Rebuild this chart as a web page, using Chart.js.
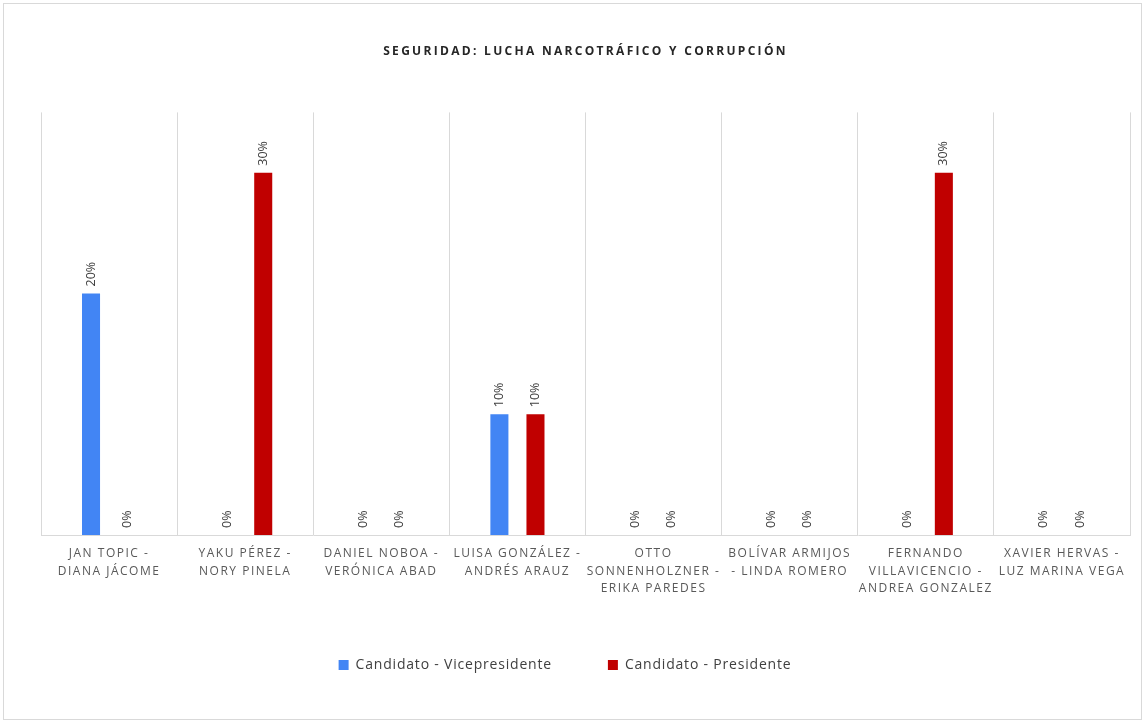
<!DOCTYPE html>
<html>
<head>
<meta charset="utf-8">
<script src="https://cdn.jsdelivr.net/npm/chart.js@4"></script>
<style>
  html, body { margin: 0; padding: 0; background: #fff; }
  #wrap { position: relative; width: 1145px; height: 724px; }
  #frame { position: absolute; left: 3px; top: 3px; width: 1139px; height: 717px; border: 1px solid #d9d9d9; box-sizing: border-box; }
</style>
</head>
<body>
<div id="wrap">
  <div id="frame"></div>
  <canvas id="mycanvas" width="1145" height="724"></canvas>
</div>
<script>
var candidatos = [
  ["JAN TOPIC -", "DIANA JÁCOME"],
  ["YAKU PÉREZ -", "NORY PINELA"],
  ["DANIEL NOBOA -", "VERÓNICA ABAD"],
  ["LUISA GONZÁLEZ -", "ANDRÉS ARAUZ"],
  ["OTTO", "SONNENHOLZNER -", "ERIKA PAREDES"],
  ["BOLÍVAR ARMIJOS", "- LINDA ROMERO"],
  ["FERNANDO", "VILLAVICENCIO -", "ANDREA GONZALEZ"],
  ["XAVIER HERVAS -", "LUZ MARINA VEGA"]
];
var vicepresidente = [20, 0, 0, 10, 0, 0, 0, 0];
var presidente = [0, 30, 0, 10, 0, 0, 30, 0];

// letter spacing helper: wraps a draw/fit method
function espaciar(obj, metodo, esp) {
  var orig = obj[metodo];
  obj[metodo] = function() {
    var c = this.ctx || grafico.ctx;
    c.save();
    c.letterSpacing = esp;
    var r = orig.apply(this, arguments);
    c.restore();
    return r;
  };
}

var espaciado = {
  id: "espaciado",
  afterInit: function(chart) {
    espaciar(chart.titleBlock, "draw", "2.3px");
    espaciar(chart.legend, "fit", "0.8px");
    espaciar(chart.legend, "draw", "0.8px");
  },
  beforeDraw: function(chart) {
    var x = chart.scales.x;
    if (!x._espaciado) {
      espaciar(x, "drawLabels", "1.5px");
      x._espaciado = true;
    }
  }
};

// etiquetas verticales encima de cada barra
var etiquetas = {
  id: "etiquetas",
  afterDatasetsDraw: function(chart) {
    var ctx = chart.ctx;
    chart.data.datasets.forEach(function(ds, i) {
      var meta = chart.getDatasetMeta(i);
      meta.data.forEach(function(bar, j) {
        ctx.save();
        ctx.translate(bar.x, bar.y - 7);
        ctx.rotate(-Math.PI / 2);
        ctx.font = "12.5px 'Open Sans'";
        ctx.fillStyle = "#404040";
        ctx.textAlign = "left";
        ctx.textBaseline = "middle";
        ctx.fillText(ds.data[j] + "%", 0, 0);
        ctx.restore();
      });
    });
  }
};

var ctx = document.getElementById("mycanvas");
var grafico = new Chart(ctx, {
  type: "bar",
  data: {
    labels: candidatos,
    datasets: [
      {
        label: "Candidato - Vicepresidente",
        backgroundColor: "#4285f4",
        data: vicepresidente
      },
      {
        label: "Candidato - Presidente",
        backgroundColor: "#c00000",
        data: presidente
      }
    ]
  },
  options: {
    responsive: false,
    animation: false,
    categoryPercentage: 0.53,
    barPercentage: 0.5,
    layout: { padding: { left: 0, right: 15, top: 0, bottom: 42 } },
    plugins: {
      title: {
        display: true,
        fullSize: false,
        text: "SEGURIDAD: LUCHA NARCOTRÁFICO Y CORRUPCIÓN",
        color: "#262626",
        font: { family: "'Open Sans'", size: 12, weight: "bold" },
        padding: { top: 44, bottom: 54 }
      },
      legend: {
        position: "bottom",
        labels: {
          color: "#404040",
          font: { family: "'Open Sans'", size: 14 },
          boxWidth: 10,
          boxHeight: 10,
          padding: 56
        }
      },
      tooltip: { enabled: false }
    },
    scales: {
      x: {
        grid: { color: "#d9d9d9", offset: true, drawTicks: false },
        border: { color: "#d9d9d9" },
        afterFit: function(scale) { scale.height = 67; },
        ticks: {
          color: "#595959",
          font: { family: "'Open Sans'", size: 12, lineHeight: 1.45 },
          maxRotation: 0,
          autoSkip: false,
          padding: 10
        }
      },
      y: {
        min: 0,
        max: 35,
        grid: { display: false },
        border: { display: false },
        ticks: { display: false },
        afterFit: function(scale) { scale.width = 41; }
      }
    }
  },
  plugins: [espaciado, etiquetas]
});
</script>
</body>
</html>
